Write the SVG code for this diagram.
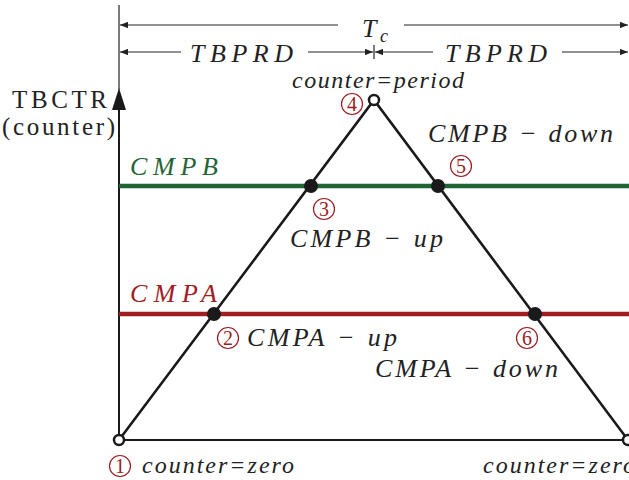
<svg xmlns="http://www.w3.org/2000/svg" width="629" height="480" viewBox="0 0 629 480">
<style>
.m{font-family:'Liberation Serif','Times New Roman','DejaVu Serif',serif;font-style:italic;font-size:26px;fill:#222}
.s{font-family:'Liberation Serif','Times New Roman','DejaVu Serif',serif;font-style:italic;font-size:24px;fill:#222}
.u{font-family:'Liberation Serif','Times New Roman','DejaVu Serif',serif;font-size:25px;fill:#222}
.num circle{fill:none;stroke:#9b1c22;stroke-width:1.2}
.num text{font-family:'Liberation Serif','Times New Roman','DejaVu Serif',serif;font-size:20px;fill:#9b1c22;text-anchor:middle}
.dim{stroke:#222;stroke-width:1.2;fill:none}
.dot{fill:#1a1a1a}
.open{fill:#fff;stroke:#1a1a1a;stroke-width:2.5}
</style>
<defs>
<marker id="ah" viewBox="0 0 10 8" refX="10" refY="4" markerWidth="8" markerHeight="6.4" markerUnits="userSpaceOnUse" orient="auto-start-reverse">
<path d="M0,0 L10,4 L0,8 z" fill="#222"/>
</marker>
</defs>
<g id="connectors">
<line class="dim" x1="119" y1="5" x2="119" y2="90"/>
<line class="dim" x1="120" y1="25" x2="338" y2="25" marker-start="url(#ah)"/>
<line class="dim" x1="404" y1="25" x2="628" y2="25" marker-end="url(#ah)"/>
<line class="dim" x1="120" y1="52" x2="181" y2="52" marker-start="url(#ah)"/>
<line class="dim" x1="308" y1="52" x2="373" y2="52" marker-end="url(#ah)"/>
<line class="dim" x1="375" y1="52" x2="433" y2="52" marker-start="url(#ah)"/>
<line class="dim" x1="562" y1="52" x2="628" y2="52" marker-end="url(#ah)"/>
<line class="dim" x1="374" y1="45" x2="374" y2="59"/>
<line x1="119" y1="440" x2="119" y2="92" stroke="#1a1a1a" stroke-width="2"/>
<path d="M119,88 L126,110 L112,110 z" fill="#1a1a1a"/>
<line x1="119" y1="440" x2="628" y2="440" stroke="#1a1a1a" stroke-width="2"/>
<line x1="119" y1="186" x2="629" y2="186" stroke="#1f6535" stroke-width="4.5"/>
<line x1="119" y1="314" x2="629" y2="314" stroke="#a11c23" stroke-width="4.5"/>
<polyline points="119,440 374,100 628,440" fill="none" stroke="#1a1a1a" stroke-width="2.6"/>
</g>
<g id="labels">
<text class="m" x="190" y="62" textLength="103" lengthAdjust="spacing">TBPRD</text>
<text class="m" x="445" y="62" textLength="102" lengthAdjust="spacing">TBPRD</text>
<text class="m" x="362" y="37">T</text>
<text class="s" x="380" y="42" style="font-size:18px">c</text>
<text class="u" x="12" y="108" textLength="95" lengthAdjust="spacing">TBCTR</text>
<text class="u" x="2" y="135" textLength="113" lengthAdjust="spacing">(counter)</text>
<text class="s" x="292" y="88" textLength="172" lengthAdjust="spacing">counter=period</text>
<text class="m" x="428" y="142" textLength="185" lengthAdjust="spacing">CMPB − down</text>
<text class="m" x="130" y="175" textLength="88" lengthAdjust="spacing" style="fill:#1f6535">CMPB</text>
<text class="m" x="290" y="247" textLength="153" lengthAdjust="spacing">CMPB − up</text>
<text class="m" x="130" y="302" textLength="87" lengthAdjust="spacing" style="fill:#a11c23">CMPA</text>
<text class="m" x="247" y="346" textLength="150" lengthAdjust="spacing">CMPA − up</text>
<text class="m" x="375" y="377" textLength="183" lengthAdjust="spacing">CMPA − down</text>
<text class="s" x="142" y="473" textLength="152" lengthAdjust="spacing">counter=zero</text>
<text class="s" x="483" y="473" textLength="152" lengthAdjust="spacing">counter=zero</text>
</g>
<g id="n1" class="num"><circle cx="120" cy="466" r="10.5"/><text x="120" y="473">1</text></g>
<g id="n2" class="num"><circle cx="228" cy="338" r="10.5"/><text x="228" y="345">2</text></g>
<g id="n3" class="num"><circle cx="324" cy="209" r="10.5"/><text x="324" y="216">3</text></g>
<g id="n4" class="num"><circle cx="352" cy="104" r="10.5"/><text x="352" y="111">4</text></g>
<g id="n5" class="num"><circle cx="461" cy="166" r="10.5"/><text x="461" y="173">5</text></g>
<g id="n6" class="num"><circle cx="527" cy="338" r="10.5"/><text x="527" y="345">6</text></g>
<g id="p-zero-left"><circle class="open" cx="119" cy="440" r="5"/></g>
<g id="p-period"><circle class="open" cx="374" cy="100" r="5"/></g>
<g id="p-zero-right"><circle class="open" cx="628" cy="440" r="5"/></g>
<g id="p3"><circle class="dot" cx="311" cy="186" r="7"/></g>
<g id="p5"><circle class="dot" cx="438" cy="186" r="7"/></g>
<g id="p2"><circle class="dot" cx="214" cy="314" r="7"/></g>
<g id="p6"><circle class="dot" cx="535" cy="314" r="7"/></g>
</svg>
